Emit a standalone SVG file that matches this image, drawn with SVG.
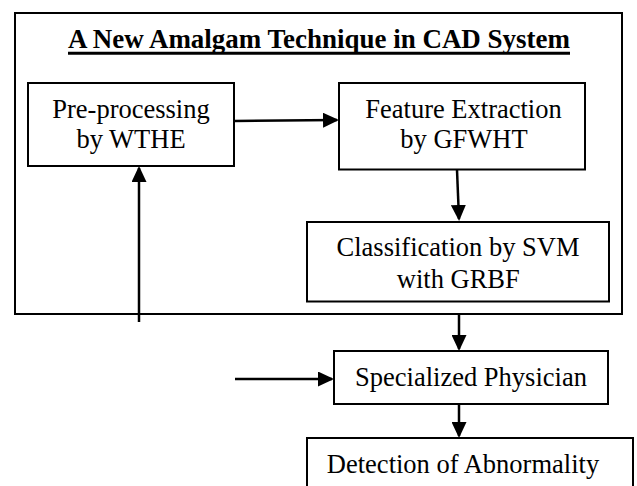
<svg xmlns="http://www.w3.org/2000/svg" width="637" height="486" viewBox="0 0 637 486">
<style>
.box{fill:#fff;stroke:#000;stroke-width:2}
.frame{fill:none;stroke:#000;stroke-width:2}
.t{font-family:"Liberation Serif","Times New Roman",serif;font-size:26.5px;fill:#000;text-anchor:middle}
.title{font-family:"Liberation Serif","Times New Roman",serif;font-size:26.5px;font-weight:bold;fill:#000;text-anchor:middle}
.c{stroke:#000;stroke-width:2.5;fill:none;marker-end:url(#ah)}
</style>
<defs>
<marker id="ah" markerUnits="userSpaceOnUse" markerWidth="16" markerHeight="15" refX="14" refY="7.5" orient="auto">
<path d="M0,0 L16,7.5 L0,15 z" fill="#000"/>
</marker>
</defs>
<rect width="637" height="486" fill="#fff"/>
<g id="cad-system">
<rect class="frame" x="15" y="13" width="607" height="301"/>
<text class="title" x="319" y="48.3" textLength="502" lengthAdjust="spacingAndGlyphs">A New Amalgam Technique in CAD System</text>
<line x1="68" y1="53.3" x2="570" y2="53.3" stroke="#000" stroke-width="3"/>
</g>
<g id="preprocessing">
<rect class="box" x="28" y="83" width="206" height="83"/>
<text class="t" x="131" y="118.3">Pre-processing</text>
<text class="t" x="131" y="148.3">by WTHE</text>
</g>
<g id="feature-extraction">
<rect class="box" x="339" y="83" width="246" height="86.5"/>
<text class="t" x="463.5" y="118.3">Feature Extraction</text>
<text class="t" x="464" y="148.3">by GFWHT</text>
</g>
<g id="classification">
<rect class="box" x="307" y="222" width="302" height="79.5"/>
<text class="t" x="458" y="256">Classification by SVM</text>
<text class="t" x="458.3" y="288">with GRBF</text>
</g>
<g id="physician">
<rect class="box" x="334" y="351" width="274" height="53"/>
<text class="t" x="471" y="386">Specialized Physician</text>
</g>
<g id="detection">
<rect class="box" x="307" y="438" width="326" height="60"/>
<text class="t" x="463" y="473.3">Detection of Abnormality</text>
</g>
<g id="connectors">
<line class="c" x1="234" y1="121" x2="337" y2="120"/>
<line class="c" x1="457" y1="170" x2="459" y2="219"/>
<line class="c" x1="459" y1="314" x2="459" y2="349"/>
<line class="c" x1="235" y1="379" x2="332" y2="379"/>
<line class="c" x1="459" y1="404" x2="459" y2="436"/>
<line class="c" x1="139" y1="322" x2="139" y2="168"/>
</g>
</svg>
